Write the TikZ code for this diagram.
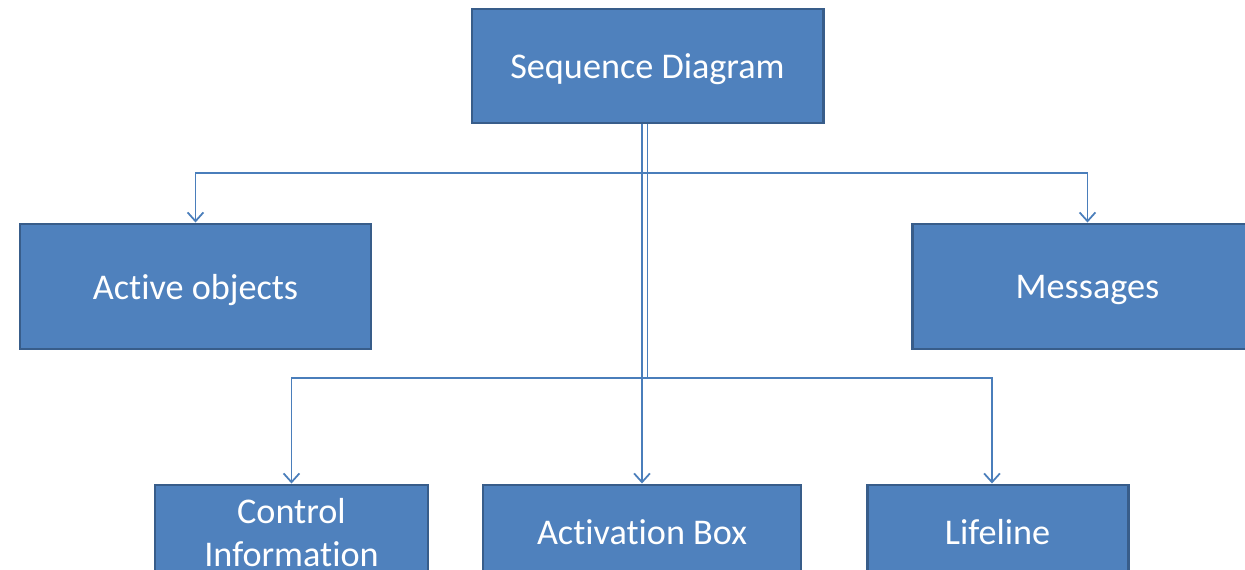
\documentclass[tikz,border=0pt]{standalone}
\usepackage{fontspec}
\setmainfont{Carlito}[RawFeature=-liga]
\usetikzlibrary{arrows.meta,calc}

\definecolor{boxfill}{HTML}{4F81BD}
\definecolor{boxline}{HTML}{385D8A}
\definecolor{wire}{HTML}{4A7EBB}

\begin{document}
\begin{tikzpicture}
      [box/.style= {
         draw = boxline,
         fill = boxfill,
         line width = 1.7pt,
         text = white,
         align = center,
         inner sep = 0pt,
         text depth = 0pt,
         font = \fontsize{20.6}{24.5}\selectfont
      },
      conn/.style= {
         draw = wire,
         line width = 1pt,
         -{Straight Barb[length=5pt, width=9pt]}
      }]

      \useasboundingbox (0, 0) rectangle (24.9, -11.4);
      \clip (0, 0) rectangle (24.9, -11.4);

      % boxes
      \node[box, minimum width = 7.02cm, minimum height = 2.28cm] (seq) at (12.95, -1.32) {Sequence Diagram};
      \node[box, minimum width = 7.02cm, minimum height = 2.5cm] (active) at (3.91, -5.73) {Active objects};
      \node[box, minimum width = 7.02cm, minimum height = 2.5cm] (msg) at (21.75, -5.73) {Messages};
      \node[box, minimum width = 5.46cm, minimum height = 1.88cm] (ctrl) at (5.83, -10.64) {Control\\Information};
      \node[box, minimum width = 6.36cm, minimum height = 1.88cm] (actbox) at (12.84, -10.64) {Activation Box};
      \node[box, minimum width = 5.22cm, minimum height = 1.88cm] (life) at (19.95, -10.64) {Lifeline};

      % the two bus levels
      \coordinate (busA) at (0, -3.46);
      \coordinate (busB) at (0, -7.56);

      % connectors
      \draw[conn] (seq.south) -- (seq.south |- busA) -| (active.north);
      \draw[conn] (seq.south) -- (seq.south |- busA) -| (msg.north);
      \draw[conn] (seq.south) -- (seq.south |- busB) -| (ctrl.north);
      \draw[conn] (seq.south) -- (seq.south |- busB) -| ([xshift=-1.1mm]life.north);
      \draw[conn] (actbox.north |- seq.south) -- (actbox.north);

   \end{tikzpicture}
\end{document}
